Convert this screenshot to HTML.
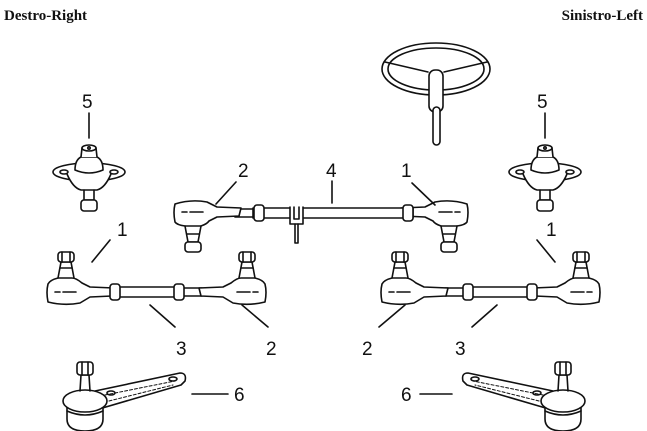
<!DOCTYPE html>
<html><head><meta charset="utf-8"><style>
html,body{margin:0;padding:0;background:#fff;width:647px;height:431px;overflow:hidden}
svg{display:block}
text{font-family:"Liberation Sans",sans-serif;fill:#111}
.h{font-family:"Liberation Serif",serif;font-weight:bold;font-size:15px}
.n{font-size:19px}
</style></head><body>
<svg width="647" height="431" viewBox="0 0 647 431" fill="none" stroke="#111" stroke-width="1.6" stroke-linejoin="round" stroke-linecap="round">
<defs>
<g id="endUp">
<path d="M-2,-8 Q-4,0 -2,10 Q14,14 30,11 L40,5 L62,4 L64,-4 L40,-5 L32,-9 Q26,-14 22,-14 L8,-14 Q0,-12 -2,-8Z" fill="#fff"/>
<line x1="5" y1="0" x2="10" y2="0"/><line x1="13" y1="0" x2="26" y2="0"/>
<path d="M8,-14 L11,-30 L21,-30 L24,-14"/>
<line x1="10" y1="-24" x2="22" y2="-24"/>
<rect x="8" y="-40" width="16" height="10" rx="3" fill="#fff"/>
<line x1="12" y1="-40" x2="12" y2="-30"/><line x1="20" y1="-40" x2="20" y2="-30"/>
</g>
<g id="endDown">
<path d="M-2,-8 Q-4,0 -2,10 Q0,13 8,14 L24,14 Q30,12 32,9 L40,5 L62,4 L64,-4 L40,-5 L30,-10 Q14,-13 -2,-8Z" fill="#fff"/>
<line x1="5" y1="0" x2="10" y2="0"/><line x1="13" y1="0" x2="26" y2="0"/>
<path d="M8,14 L11,30 L21,30 L24,14"/>
<line x1="10" y1="22" x2="22" y2="22"/>
<rect x="8" y="30" width="16" height="10" rx="3" fill="#fff"/>
</g>
<g id="ball">
<ellipse cx="0" cy="12" rx="36" ry="9" fill="#fff"/>
<path d="M-22,14 Q-16,28 -8,30 L8,30 Q16,28 22,14" fill="#fff"/>
<ellipse cx="-25" cy="12" rx="4" ry="2"/><ellipse cx="25" cy="12" rx="4" ry="2"/>
<path d="M-14,10 Q-14,0 -8,-3 L8,-3 Q14,0 14,10 Q0,16 -14,10Z" fill="#fff"/>
<path d="M-8,-3 L-7,-12 L7,-12 L8,-3" fill="#fff"/>
<ellipse cx="0" cy="-12" rx="7" ry="3" fill="#fff"/>
<circle cx="0" cy="-12" r="1.2"/>
<path d="M-5,30 L-5,40 L5,40 L5,30"/>
<rect x="-8" y="40" width="16" height="11" rx="3" fill="#fff"/>
</g>
<g id="arm">
<path d="M10,-2 L95,-20 Q102,-20 100,-12 L96,-8 L14,16 Z" fill="#fff"/>
<path d="M20,2 L90,-12 M24,8 L88,-8" stroke-width="1" stroke-dasharray="3 2"/>
<ellipse cx="26" cy="0" rx="4" ry="2"/><ellipse cx="88" cy="-14" rx="4" ry="2"/>
<path d="M-18,8 L-18,26 Q-18,38 0,38 Q18,38 18,26 L18,8" fill="#fff"/>
<ellipse cx="0" cy="8" rx="22" ry="11" fill="#fff"/>
<path d="M-18,18 Q0,26 18,18" />
<path d="M-5,-2 L-4,-18 L4,-18 L5,-2"/>
<rect x="-8" y="-31" width="16" height="13" rx="3" fill="#fff"/>
<line x1="-3" y1="-31" x2="-3" y2="-18"/><line x1="3" y1="-31" x2="3" y2="-18"/>
</g>
<g id="lower">
<rect x="112" y="288" width="90" height="8" fill="#fff"/>
<use href="#endUp" x="50" y="292"/>
<use href="#endUp" transform="translate(263,292) scale(-1,1)"/>
<rect x="112" y="287" width="70" height="10" fill="#fff"/>
<rect x="110" y="284" width="10" height="16" rx="3" fill="#fff"/>
<rect x="174" y="284" width="10" height="16" rx="3" fill="#fff"/>
<path d="M110,240 L92,262 M150,305 L175,327 M242,305 L268,327"/>
</g>
</defs>

<text x="4" y="20" class="h" stroke="none">Destro-Right</text>
<text x="643" y="20" class="h" stroke="none" text-anchor="end">Sinistro-Left</text>

<ellipse cx="436" cy="69" rx="54" ry="26"/>
<ellipse cx="436" cy="69" rx="48" ry="21"/>
<path d="M385,62 L428,72 M487,62 L444,72"/>
<rect x="429" y="70" width="14" height="42" rx="6" fill="#fff"/>
<rect x="433" y="107" width="7" height="38" rx="3.5" fill="#fff"/>

<use href="#ball" x="89" y="160"/>
<use href="#ball" x="545" y="160"/>
<line x1="89" y1="113" x2="89" y2="138"/><line x1="545" y1="113" x2="545" y2="138"/>
<text x="82" y="108" class="n" stroke="none">5</text>
<text x="537" y="108" class="n" stroke="none">5</text>

<rect x="235" y="209" width="25" height="8" fill="#fff"/>
<use href="#endDown" x="177" y="212"/>
<use href="#endDown" transform="translate(465,212) scale(-1,1)"/>
<rect x="253" y="208" width="160" height="10" fill="#fff"/>
<rect x="254" y="205" width="10" height="16" rx="3" fill="#fff"/>
<rect x="403" y="205" width="10" height="16" rx="3" fill="#fff"/>
<path d="M290,207 L290,224 L303,224 L303,207 M294,207 L294,219 L299,219 L299,207" fill="#fff"/>
<path d="M295,224 L295,243 L298,243 L298,224"/>
<path d="M236,182 L216,204 M332,181 L332,203 M412,183 L435,205"/>
<text x="238" y="177" class="n" stroke="none">2</text>
<text x="326" y="177" class="n" stroke="none">4</text>
<text x="401" y="177" class="n" stroke="none">1</text>

<use href="#lower"/>
<use href="#lower" transform="translate(647,0) scale(-1,1)"/>
<text x="117" y="236" class="n" stroke="none">1</text>
<text x="176" y="355" class="n" stroke="none">3</text>
<text x="266" y="355" class="n" stroke="none">2</text>
<text x="546" y="236" class="n" stroke="none">1</text>
<text x="455" y="355" class="n" stroke="none">3</text>
<text x="362" y="355" class="n" stroke="none">2</text>

<use href="#arm" x="85" y="393"/>
<use href="#arm" transform="translate(563,393) scale(-1,1)"/>
<line x1="192" y1="394" x2="228" y2="394"/><line x1="420" y1="394" x2="452" y2="394"/>
<text x="234" y="401" class="n" stroke="none">6</text>
<text x="401" y="401" class="n" stroke="none">6</text>
</svg>
</body></html>
